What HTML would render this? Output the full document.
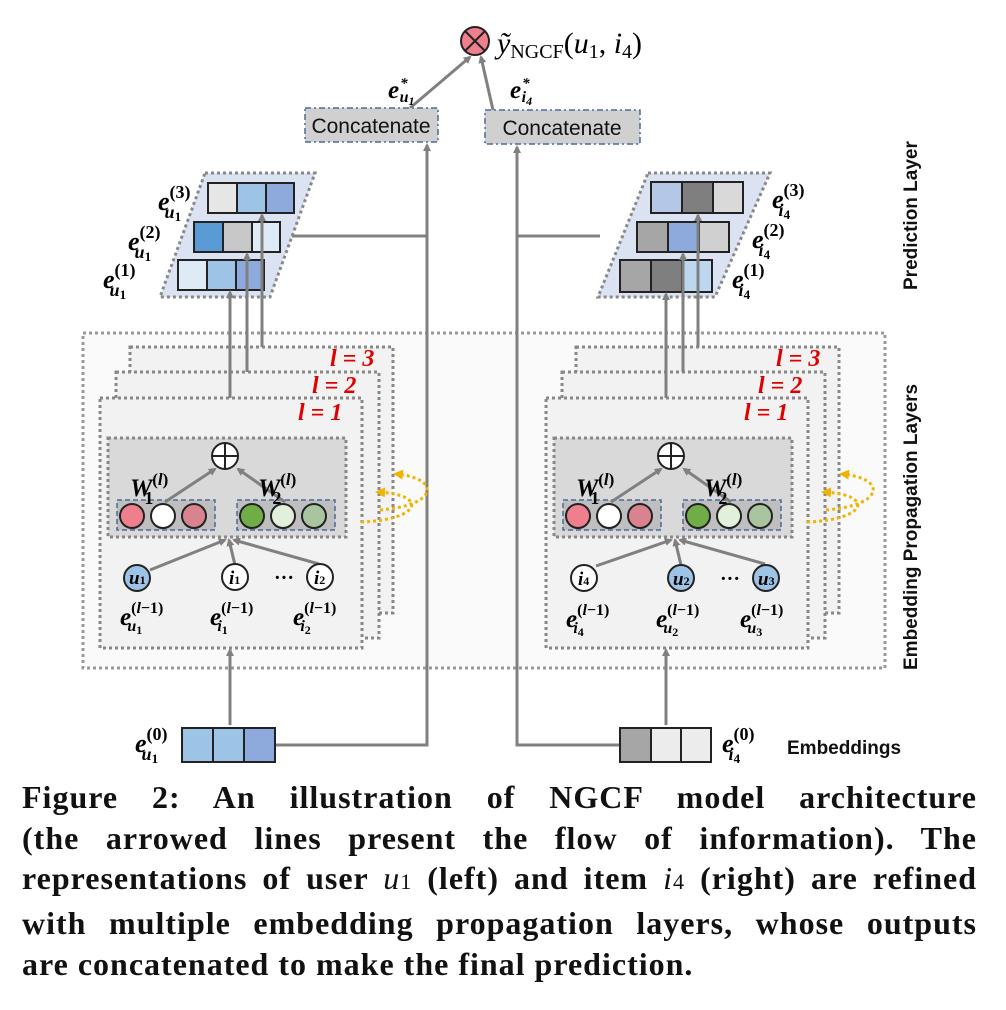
<!DOCTYPE html>
<html><head><meta charset="utf-8"><style>
body{margin:0;background:#fff;width:1006px;height:1010px;overflow:hidden;position:relative}
svg{position:absolute;left:0;top:0}
.cap{position:absolute;left:22px;width:955px;font-family:"Liberation Serif",serif;font-weight:bold;font-size:32px;letter-spacing:1px;line-height:40.7px;top:777px;color:#111}
.cap div{text-align:justify;text-align-last:justify;white-space:nowrap}
.cap div.last{text-align-last:left}
</style></head><body>
<svg width="1006" height="780" viewBox="0 0 1006 780" font-family="Liberation Serif, serif">
<defs>
<marker id="ah" markerWidth="8" markerHeight="8" refX="6" refY="4" orient="auto" markerUnits="userSpaceOnUse"><path d="M0,0 L8,4 L0,8 Z" fill="#808080"/></marker>
<marker id="oh" markerWidth="10" markerHeight="10" refX="7" refY="5" orient="auto" markerUnits="userSpaceOnUse"><path d="M0,0 L10,5 L0,10 Z" fill="#f0b400"/></marker>
</defs>
<!-- outer box -->
<rect x="83" y="333" width="802" height="335" fill="#fafafa" stroke="#999" stroke-width="3" stroke-dasharray="3,3"/>
<g stroke="#808080" stroke-width="3" fill="none">
<path d="M275,745 H427 V145" marker-end="url(#ah)"/>
<path d="M620,745 H517 V147" marker-end="url(#ah)"/>
<path d="M292,236 H427"/>
<path d="M517,236 H600"/>
<path d="M410,108 L470,57" marker-end="url(#ah)"/>
<path d="M493,110 L481,57" marker-end="url(#ah)"/>
</g>
<circle cx="475" cy="41" r="14" fill="#f07f8e" stroke="#222" stroke-width="2"/>
<path d="M465,31 L485,51 M485,31 L465,51" stroke="#222" stroke-width="2"/>
<text x="497" y="53" font-size="30" font-style="italic">ỹ<tspan font-size="20" font-style="normal" dy="5">NGCF</tspan><tspan dy="-5" font-style="normal">(</tspan>u<tspan font-size="20" font-style="normal" dy="5">1</tspan><tspan dy="-5" font-style="normal">, </tspan>i<tspan font-size="20" font-style="normal" dy="5">4</tspan><tspan dy="-5" font-style="normal">)</tspan></text>
<g font-weight="bold" font-style="italic">
<text x="388" y="98" font-size="25">e<tspan font-size="15" dx="1" dy="-10">*</tspan><tspan font-size="16" dx="-8" dy="14">u</tspan><tspan font-size="12" dy="3">1</tspan></text>
<text x="510" y="98" font-size="25">e<tspan font-size="15" dx="1" dy="-10">*</tspan><tspan font-size="16" dx="-8" dy="14">i</tspan><tspan font-size="12" dy="3">4</tspan></text>
</g>
<g fill="#d0d0d0" stroke="#4a6a9a" stroke-width="1.5" stroke-dasharray="6,3,2,3">
<rect x="305" y="108" width="133" height="34"/>
<rect x="485" y="110" width="155" height="34"/>
</g>
<g font-family="Liberation Sans, sans-serif" font-size="21" fill="#111">
<text x="371" y="133" text-anchor="middle">Concatenate</text>
<text x="562" y="135" text-anchor="middle">Concatenate</text>
</g>
<g fill="#dbe3f3" stroke="#888" stroke-width="3" stroke-dasharray="3,3">
<polygon points="205,173 315,173 270,297 160,297"/>
<polygon points="648,173 770,173 715,297 598,297"/>
</g>
<g stroke="#222" stroke-width="2">
<rect x="208" y="183" width="29" height="30" fill="#e6e6e6"/><rect x="237" y="183" width="29" height="30" fill="#9dc3e6"/><rect x="266" y="183" width="28" height="30" fill="#8ea9db"/>
<rect x="194" y="222" width="29" height="30" fill="#5b9bd5"/><rect x="223" y="222" width="29" height="30" fill="#c8c8c8"/><rect x="252" y="222" width="28" height="30" fill="#deebf7"/>
<rect x="178" y="260" width="29" height="30" fill="#deebf7"/><rect x="207" y="260" width="29" height="30" fill="#9dc3e6"/><rect x="236" y="260" width="28" height="30" fill="#8ea9db"/>
<rect x="651" y="182" width="31" height="31" fill="#b4c7e7"/><rect x="682" y="182" width="31" height="31" fill="#7f7f7f"/><rect x="713" y="182" width="30" height="31" fill="#d9d9d9"/>
<rect x="637" y="222" width="31" height="30" fill="#a6a6a6"/><rect x="668" y="222" width="31" height="30" fill="#8ea9db"/><rect x="699" y="222" width="30" height="30" fill="#d0d0d0"/>
<rect x="620" y="260" width="31" height="32" fill="#a6a6a6"/><rect x="651" y="260" width="31" height="32" fill="#7f7f7f"/><rect x="682" y="260" width="30" height="32" fill="#bdd7ee"/>
</g>
<g font-weight="bold" font-style="italic" font-size="26">
<text x="158" y="210">e<tspan font-size="18" font-style="normal" dy="-12">(3)</tspan><tspan font-size="18" dx="-26" dy="20">u</tspan><tspan font-size="13" font-style="normal" dy="3">1</tspan></text>
<text x="128" y="250">e<tspan font-size="18" font-style="normal" dy="-12">(2)</tspan><tspan font-size="18" dx="-26" dy="20">u</tspan><tspan font-size="13" font-style="normal" dy="3">1</tspan></text>
<text x="103" y="288">e<tspan font-size="18" font-style="normal" dy="-12">(1)</tspan><tspan font-size="18" dx="-26" dy="20">u</tspan><tspan font-size="13" font-style="normal" dy="3">1</tspan></text>
<text x="772" y="208">e<tspan font-size="18" font-style="normal" dy="-12">(3)</tspan><tspan font-size="18" dx="-26" dy="20">i</tspan><tspan font-size="13" font-style="normal" dy="3">4</tspan></text>
<text x="752" y="248">e<tspan font-size="18" font-style="normal" dy="-12">(2)</tspan><tspan font-size="18" dx="-26" dy="20">i</tspan><tspan font-size="13" font-style="normal" dy="3">4</tspan></text>
<text x="732" y="288">e<tspan font-size="18" font-style="normal" dy="-12">(1)</tspan><tspan font-size="18" dx="-26" dy="20">i</tspan><tspan font-size="13" font-style="normal" dy="3">4</tspan></text>
<text x="135" y="752">e<tspan font-size="18" font-style="normal" dy="-12">(0)</tspan><tspan font-size="18" dx="-26" dy="20">u</tspan><tspan font-size="13" font-style="normal" dy="3">1</tspan></text>
<text x="722" y="752">e<tspan font-size="18" font-style="normal" dy="-12">(0)</tspan><tspan font-size="18" dx="-26" dy="20">i</tspan><tspan font-size="13" font-style="normal" dy="3">4</tspan></text>
</g>
<g id="stackL">
<rect x="130" y="347" width="263" height="266" fill="#f2f2f2" stroke="#888" stroke-width="3" stroke-dasharray="3,3"/>
<rect x="116" y="372" width="263" height="266" fill="#f2f2f2" stroke="#888" stroke-width="3" stroke-dasharray="3,3"/>
<rect x="100" y="398" width="262" height="250" fill="#f2f2f2" stroke="#888" stroke-width="3" stroke-dasharray="3,3"/>
<rect x="108" y="438" width="238" height="99" fill="#d9d9d9" stroke="#888" stroke-width="3" stroke-dasharray="3,3"/>
<rect x="117" y="500" width="98" height="30" fill="#bfbfbf" stroke="#4a6a9a" stroke-width="1.5" stroke-dasharray="5,3"/>
<rect x="237" y="500" width="98" height="30" fill="#bfbfbf" stroke="#4a6a9a" stroke-width="1.5" stroke-dasharray="5,3"/>
<g stroke="#222" stroke-width="2">
<circle cx="132" cy="516" r="12" fill="#f07f8e"/><circle cx="163" cy="516" r="12" fill="#fff"/><circle cx="194" cy="516" r="12" fill="#d9838e"/>
<circle cx="252" cy="516" r="12" fill="#70ad47"/><circle cx="283" cy="516" r="12" fill="#e2efda"/><circle cx="314" cy="516" r="12" fill="#a9c5a0"/>
</g>
<g stroke="#808080" stroke-width="3" fill="none">
<path d="M165,502 L215,469" marker-end="url(#ah)"/>
<path d="M285,502 L238,469" marker-end="url(#ah)"/>
<path d="M150,570 L225,540" marker-end="url(#ah)"/>
<path d="M235,565 L229,540" marker-end="url(#ah)"/>
<path d="M319,564 L234,540" marker-end="url(#ah)"/>
</g>
<circle cx="225" cy="456" r="13" fill="#fff" stroke="#222" stroke-width="2"/>
<path d="M212,456 H238 M225,443 V469" stroke="#222" stroke-width="2"/>
<g font-weight="bold" font-style="italic" font-size="25">
<text x="130" y="496">W<tspan font-size="17" font-style="normal" dy="-11">(</tspan><tspan font-size="17">l</tspan><tspan font-size="17" font-style="normal">)</tspan><tspan font-size="18" font-style="normal" dx="-24" dy="19">1</tspan></text>
<text x="258" y="496">W<tspan font-size="17" font-style="normal" dy="-11">(</tspan><tspan font-size="17">l</tspan><tspan font-size="17" font-style="normal">)</tspan><tspan font-size="18" font-style="normal" dx="-24" dy="19">2</tspan></text>
</g>
<g font-weight="bold" font-style="italic" font-size="24" fill="#e00000">
<text x="330" y="366">l = 3</text>
<text x="312" y="393">l = 2</text>
<text x="298" y="420">l = 1</text>
</g>
<g fill="none" stroke="#f0b400" stroke-width="3" stroke-dasharray="3,3">
<path d="M361,522 C420,520 430,495 378,492" marker-end="url(#oh)"/>
<path d="M380,510 C440,505 440,478 396,474" marker-end="url(#oh)"/>
</g>
</g>
<g transform="translate(446,0)">
<rect x="130" y="347" width="263" height="266" fill="#f2f2f2" stroke="#888" stroke-width="3" stroke-dasharray="3,3"/>
<rect x="116" y="372" width="263" height="266" fill="#f2f2f2" stroke="#888" stroke-width="3" stroke-dasharray="3,3"/>
<rect x="100" y="398" width="262" height="250" fill="#f2f2f2" stroke="#888" stroke-width="3" stroke-dasharray="3,3"/>
<rect x="108" y="438" width="238" height="99" fill="#d9d9d9" stroke="#888" stroke-width="3" stroke-dasharray="3,3"/>
<rect x="117" y="500" width="98" height="30" fill="#bfbfbf" stroke="#4a6a9a" stroke-width="1.5" stroke-dasharray="5,3"/>
<rect x="237" y="500" width="98" height="30" fill="#bfbfbf" stroke="#4a6a9a" stroke-width="1.5" stroke-dasharray="5,3"/>
<g stroke="#222" stroke-width="2">
<circle cx="132" cy="516" r="12" fill="#f07f8e"/><circle cx="163" cy="516" r="12" fill="#fff"/><circle cx="194" cy="516" r="12" fill="#d9838e"/>
<circle cx="252" cy="516" r="12" fill="#70ad47"/><circle cx="283" cy="516" r="12" fill="#e2efda"/><circle cx="314" cy="516" r="12" fill="#a9c5a0"/>
</g>
<g stroke="#808080" stroke-width="3" fill="none">
<path d="M165,502 L215,469" marker-end="url(#ah)"/>
<path d="M285,502 L238,469" marker-end="url(#ah)"/>
<path d="M150,566 L225,540" marker-end="url(#ah)"/>
<path d="M235,565 L229,540" marker-end="url(#ah)"/>
<path d="M319,564 L234,540" marker-end="url(#ah)"/>
</g>
<circle cx="225" cy="456" r="13" fill="#fff" stroke="#222" stroke-width="2"/>
<path d="M212,456 H238 M225,443 V469" stroke="#222" stroke-width="2"/>
<g font-weight="bold" font-style="italic" font-size="25">
<text x="130" y="496">W<tspan font-size="17" font-style="normal" dy="-11">(</tspan><tspan font-size="17">l</tspan><tspan font-size="17" font-style="normal">)</tspan><tspan font-size="18" font-style="normal" dx="-24" dy="19">1</tspan></text>
<text x="258" y="496">W<tspan font-size="17" font-style="normal" dy="-11">(</tspan><tspan font-size="17">l</tspan><tspan font-size="17" font-style="normal">)</tspan><tspan font-size="18" font-style="normal" dx="-24" dy="19">2</tspan></text>
</g>
<g font-weight="bold" font-style="italic" font-size="24" fill="#e00000">
<text x="330" y="366">l = 3</text>
<text x="312" y="393">l = 2</text>
<text x="298" y="420">l = 1</text>
</g>
<g fill="none" stroke="#f0b400" stroke-width="3" stroke-dasharray="3,3">
<path d="M361,522 C420,520 430,495 378,492" marker-end="url(#oh)"/>
<path d="M380,510 C440,505 440,478 396,474" marker-end="url(#oh)"/>
</g>
</g>
<g stroke="#222" stroke-width="2">
<circle cx="137" cy="578" r="13" fill="#9dc3e6"/><circle cx="235" cy="577" r="13" fill="#fff"/><circle cx="320" cy="577" r="13" fill="#fff"/>
<circle cx="584" cy="578" r="13" fill="#fff"/><circle cx="681" cy="578" r="13" fill="#9dc3e6"/><circle cx="766" cy="578" r="13" fill="#9dc3e6"/>
</g>
<g font-weight="bold" font-style="italic" font-size="19">
<text x="129" y="584">u<tspan font-size="12" font-style="normal">1</tspan></text>
<text x="229" y="584">i<tspan font-size="12" font-style="normal">1</tspan></text>
<text x="314" y="584">i<tspan font-size="12" font-style="normal">2</tspan></text>
<text x="578" y="585">i<tspan font-size="12" font-style="normal">4</tspan></text>
<text x="673" y="585">u<tspan font-size="12" font-style="normal">2</tspan></text>
<text x="758" y="585">u<tspan font-size="12" font-style="normal">3</tspan></text>
</g>
<text x="274" y="584" font-size="20" font-weight="bold">···</text>
<text x="720" y="585" font-size="20" font-weight="bold">···</text>
<g font-weight="bold" font-style="italic" font-size="25">
<text x="120" y="625">e<tspan font-size="16" font-style="normal" dy="-12">(</tspan><tspan font-size="16">l</tspan><tspan font-size="16" font-style="normal">−1)</tspan><tspan font-size="16" dx="-36" dy="18">u</tspan><tspan font-size="12" font-style="normal" dy="3">1</tspan></text>
<text x="210" y="625">e<tspan font-size="16" font-style="normal" dy="-12">(</tspan><tspan font-size="16">l</tspan><tspan font-size="16" font-style="normal">−1)</tspan><tspan font-size="16" dx="-36" dy="18">i</tspan><tspan font-size="12" font-style="normal" dy="3">1</tspan></text>
<text x="293" y="625">e<tspan font-size="16" font-style="normal" dy="-12">(</tspan><tspan font-size="16">l</tspan><tspan font-size="16" font-style="normal">−1)</tspan><tspan font-size="16" dx="-36" dy="18">i</tspan><tspan font-size="12" font-style="normal" dy="3">2</tspan></text>
<text x="566" y="627">e<tspan font-size="16" font-style="normal" dy="-12">(</tspan><tspan font-size="16">l</tspan><tspan font-size="16" font-style="normal">−1)</tspan><tspan font-size="16" dx="-36" dy="18">i</tspan><tspan font-size="12" font-style="normal" dy="3">4</tspan></text>
<text x="656" y="627">e<tspan font-size="16" font-style="normal" dy="-12">(</tspan><tspan font-size="16">l</tspan><tspan font-size="16" font-style="normal">−1)</tspan><tspan font-size="16" dx="-36" dy="18">u</tspan><tspan font-size="12" font-style="normal" dy="3">2</tspan></text>
<text x="740" y="627">e<tspan font-size="16" font-style="normal" dy="-12">(</tspan><tspan font-size="16">l</tspan><tspan font-size="16" font-style="normal">−1)</tspan><tspan font-size="16" dx="-36" dy="18">u</tspan><tspan font-size="12" font-style="normal" dy="3">3</tspan></text>
</g>
<g stroke="#808080" stroke-width="3" fill="none">
<path d="M230,398 V292" marker-end="url(#ah)"/>
<path d="M247,372 V254" marker-end="url(#ah)"/>
<path d="M262,347 V215" marker-end="url(#ah)"/>
<path d="M666,398 V294" marker-end="url(#ah)"/>
<path d="M683,372 V254" marker-end="url(#ah)"/>
<path d="M698,347 V215" marker-end="url(#ah)"/>
<path d="M230,725 V650" marker-end="url(#ah)"/>
<path d="M666,725 V650" marker-end="url(#ah)"/>
</g>
<g stroke="#222" stroke-width="2">
<rect x="182" y="728" width="31" height="34" fill="#9dc3e6"/><rect x="213" y="728" width="31" height="34" fill="#9dc3e6"/><rect x="244" y="728" width="31" height="34" fill="#8ea9db"/>
<rect x="620" y="728" width="31" height="34" fill="#a6a6a6"/><rect x="651" y="728" width="30" height="34" fill="#ececec"/><rect x="681" y="728" width="30" height="34" fill="#ececec"/>
</g>
<g font-family="Liberation Sans, sans-serif" font-weight="bold" font-size="19" fill="#111">
<text x="787" y="754">Embeddings</text>
<text transform="translate(917,290) rotate(-90)">Prediction Layer</text>
<text transform="translate(917,670) rotate(-90)">Embedding Propagation Layers</text>
</g>
</svg>
<div class="cap">
<div>Figure 2: An illustration of NGCF model architecture</div>
<div>(the arrowed lines present the flow of information). The</div>
<div>representations of user <i style="font-weight:normal">u</i><span style="font-weight:normal;font-size:22px">1</span> (left) and item <i style="font-weight:normal">i</i><span style="font-weight:normal;font-size:22px">4</span> (right) are refined</div>
<div>with multiple embedding propagation layers, whose outputs</div>
<div class="last">are concatenated to make the final prediction.</div>
</div>
</body></html>
